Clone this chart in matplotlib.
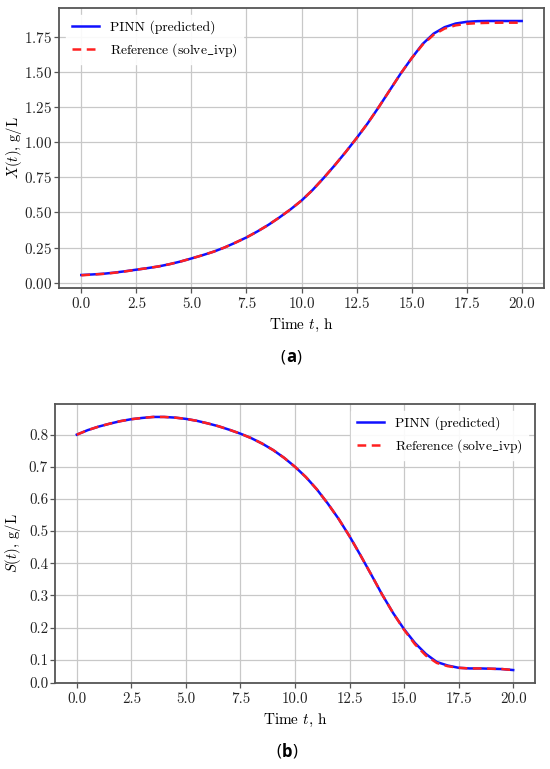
import matplotlib
matplotlib.use("Agg")
import matplotlib.pyplot as plt

# ---------------- data ----------------
t = [0.0, 0.5, 1.0, 1.5, 2.0, 2.5, 3.0, 3.5, 4.0, 4.5, 5.0, 5.5, 6.0, 6.5, 7.0,
     7.5, 8.0, 8.5, 9.0, 9.5, 10.0, 10.5, 11.0, 11.5, 12.0, 12.5, 13.0, 13.5,
     14.0, 14.5, 15.0, 15.5, 16.0, 16.5, 17.0, 17.5, 18.0, 18.5, 19.0, 19.5, 20.0]

X_ref = [0.052, 0.057, 0.062, 0.070, 0.080, 0.092, 0.103, 0.115, 0.131, 0.150,
         0.172, 0.195, 0.220, 0.250, 0.285, 0.322, 0.365, 0.412, 0.465, 0.522,
         0.585, 0.660, 0.745, 0.835, 0.930, 1.030, 1.135, 1.250, 1.370, 1.490,
         1.600, 1.697, 1.768, 1.812, 1.835, 1.846, 1.851, 1.853, 1.854, 1.854, 1.854]
X_pinn = [0.054, 0.058, 0.063, 0.071, 0.081, 0.092, 0.103, 0.115, 0.131, 0.150,
          0.172, 0.195, 0.220, 0.250, 0.285, 0.322, 0.365, 0.412, 0.465, 0.522,
          0.585, 0.660, 0.745, 0.835, 0.930, 1.030, 1.135, 1.250, 1.370, 1.490,
          1.600, 1.702, 1.776, 1.822, 1.848, 1.860, 1.865, 1.866, 1.866, 1.866, 1.866]

S_ref = [0.800, 0.814, 0.825, 0.834, 0.842, 0.848, 0.852, 0.855, 0.855, 0.853,
         0.849, 0.843, 0.835, 0.826, 0.815, 0.803, 0.789, 0.772, 0.752, 0.728,
         0.700, 0.668, 0.630, 0.586, 0.538, 0.484, 0.425, 0.364, 0.302, 0.245,
         0.193, 0.148, 0.113, 0.090, 0.080, 0.075, 0.073, 0.073, 0.072, 0.071, 0.068]
S_pinn = [0.800, 0.814, 0.825, 0.834, 0.842, 0.848, 0.852, 0.855, 0.855, 0.853,
          0.849, 0.843, 0.835, 0.826, 0.815, 0.803, 0.789, 0.772, 0.752, 0.728,
          0.700, 0.668, 0.630, 0.586, 0.538, 0.484, 0.425, 0.364, 0.302, 0.245,
          0.195, 0.152, 0.118, 0.093, 0.082, 0.075, 0.073, 0.073, 0.072, 0.071, 0.068]

x_ticks = [0.0, 2.5, 5.0, 7.5, 10.0, 12.5, 15.0, 17.5, 20.0]
s_tick_labels = ["0.0", "0.1", "0.2", "0.3", "0.4", "0.5", "0.6", "0.7", "0.8"]
s_tick_values = [0.1, 0.2, 0.3, 0.4, 0.5, 0.6, 0.7, 0.8]

labels = ["PINN (predicted)", r"Reference (solve$\_$ivp)"]

# ---------------- style ----------------
plt.rcParams["font.family"] = ["cmr10", "DejaVu Serif"]
plt.rcParams["mathtext.fontset"] = "cm"
plt.rcParams["axes.formatter.use_mathtext"] = True

fig = plt.figure(figsize=(5.5, 7.69), dpi=100)
W, H = 550.0, 769.0

ax1 = fig.add_axes([59.3 / W, 1 - 288 / H, (543.7 - 59.3) / W, (288 - 8.3) / H])
ax2 = fig.add_axes([55 / W, 1 - 682.7 / H, (535 - 55) / W, (682.7 - 404.3) / H])


def style(ax):
    ax.grid(True, color="#c8c8c8", linewidth=0.9)
    ax.set_axisbelow(True)
    for sp in ax.spines.values():
        sp.set_color("#555555")
        sp.set_linewidth(1.3)
    ax.tick_params(colors="#555555", labelcolor="#222222", labelsize=10.8,
                   length=3.5, width=0.9)
    ax.tick_params(axis="y", pad=1.5)
    ax.set_xticks(x_ticks)
    ax.set_xticklabels([f"{v:.1f}" for v in x_ticks])


ax1.plot(t, X_pinn, color="#1010ff", lw=1.8, label=labels[0])
ax1.plot(t, X_ref, color="#ff2020", lw=1.8, ls=(0, (3.5, 2.2)), label=labels[1])
style(ax1)
ax1.set_ylabel("$X(t)$, g/L", fontsize=10.5, va="center", ha="center")
ax1.yaxis.set_label_coords((14 - 59.3) / 484.4, 0.5)
ax1.set_xlabel("Time $t$, h", fontsize=11)
ax1.legend(loc="upper left", fontsize=9.8, frameon=True, framealpha=0.9,
           edgecolor="white", fancybox=False)

ax2.plot(t, S_pinn, color="#1010ff", lw=1.8, label=labels[0])
ax2.plot(t, S_ref, color="#ff2020", lw=1.8, ls=(0, (3.5, 2.2)), label=labels[1])
style(ax2)
lo, hi = ax2.get_ylim()
ax2.set_yticks([lo] + s_tick_values)
ax2.set_yticklabels(s_tick_labels)
ax2.set_ylim(lo, hi)
ax2.set_ylabel("$S(t)$, g/L", fontsize=10.5, va="center", ha="center")
ax2.yaxis.set_label_coords((13 - 55) / 480.0, 0.5)
ax2.set_xlabel("Time $t$, h", fontsize=11)
ax2.legend(loc="upper right", fontsize=9.8, frameon=True, framealpha=0.9,
           edgecolor="white", fancybox=False)


def panel_label(xc, yc, letter):
    yf = 1 - yc / H
    fig.text(xc / W, yf, letter, ha="center", va="center", fontsize=12,
             fontweight="bold", family=["Open Sans", "DejaVu Sans"])
    fig.text(xc / W - 0.0105, yf, "(", ha="right", va="center", fontsize=12,
             family=["Open Sans", "DejaVu Sans"])
    fig.text(xc / W + 0.0105, yf, ")", ha="left", va="center", fontsize=12,
             family=["Open Sans", "DejaVu Sans"])


panel_label(291, 357, "a")
panel_label(287, 752, "b")

fig.savefig("out.png", dpi=100)
